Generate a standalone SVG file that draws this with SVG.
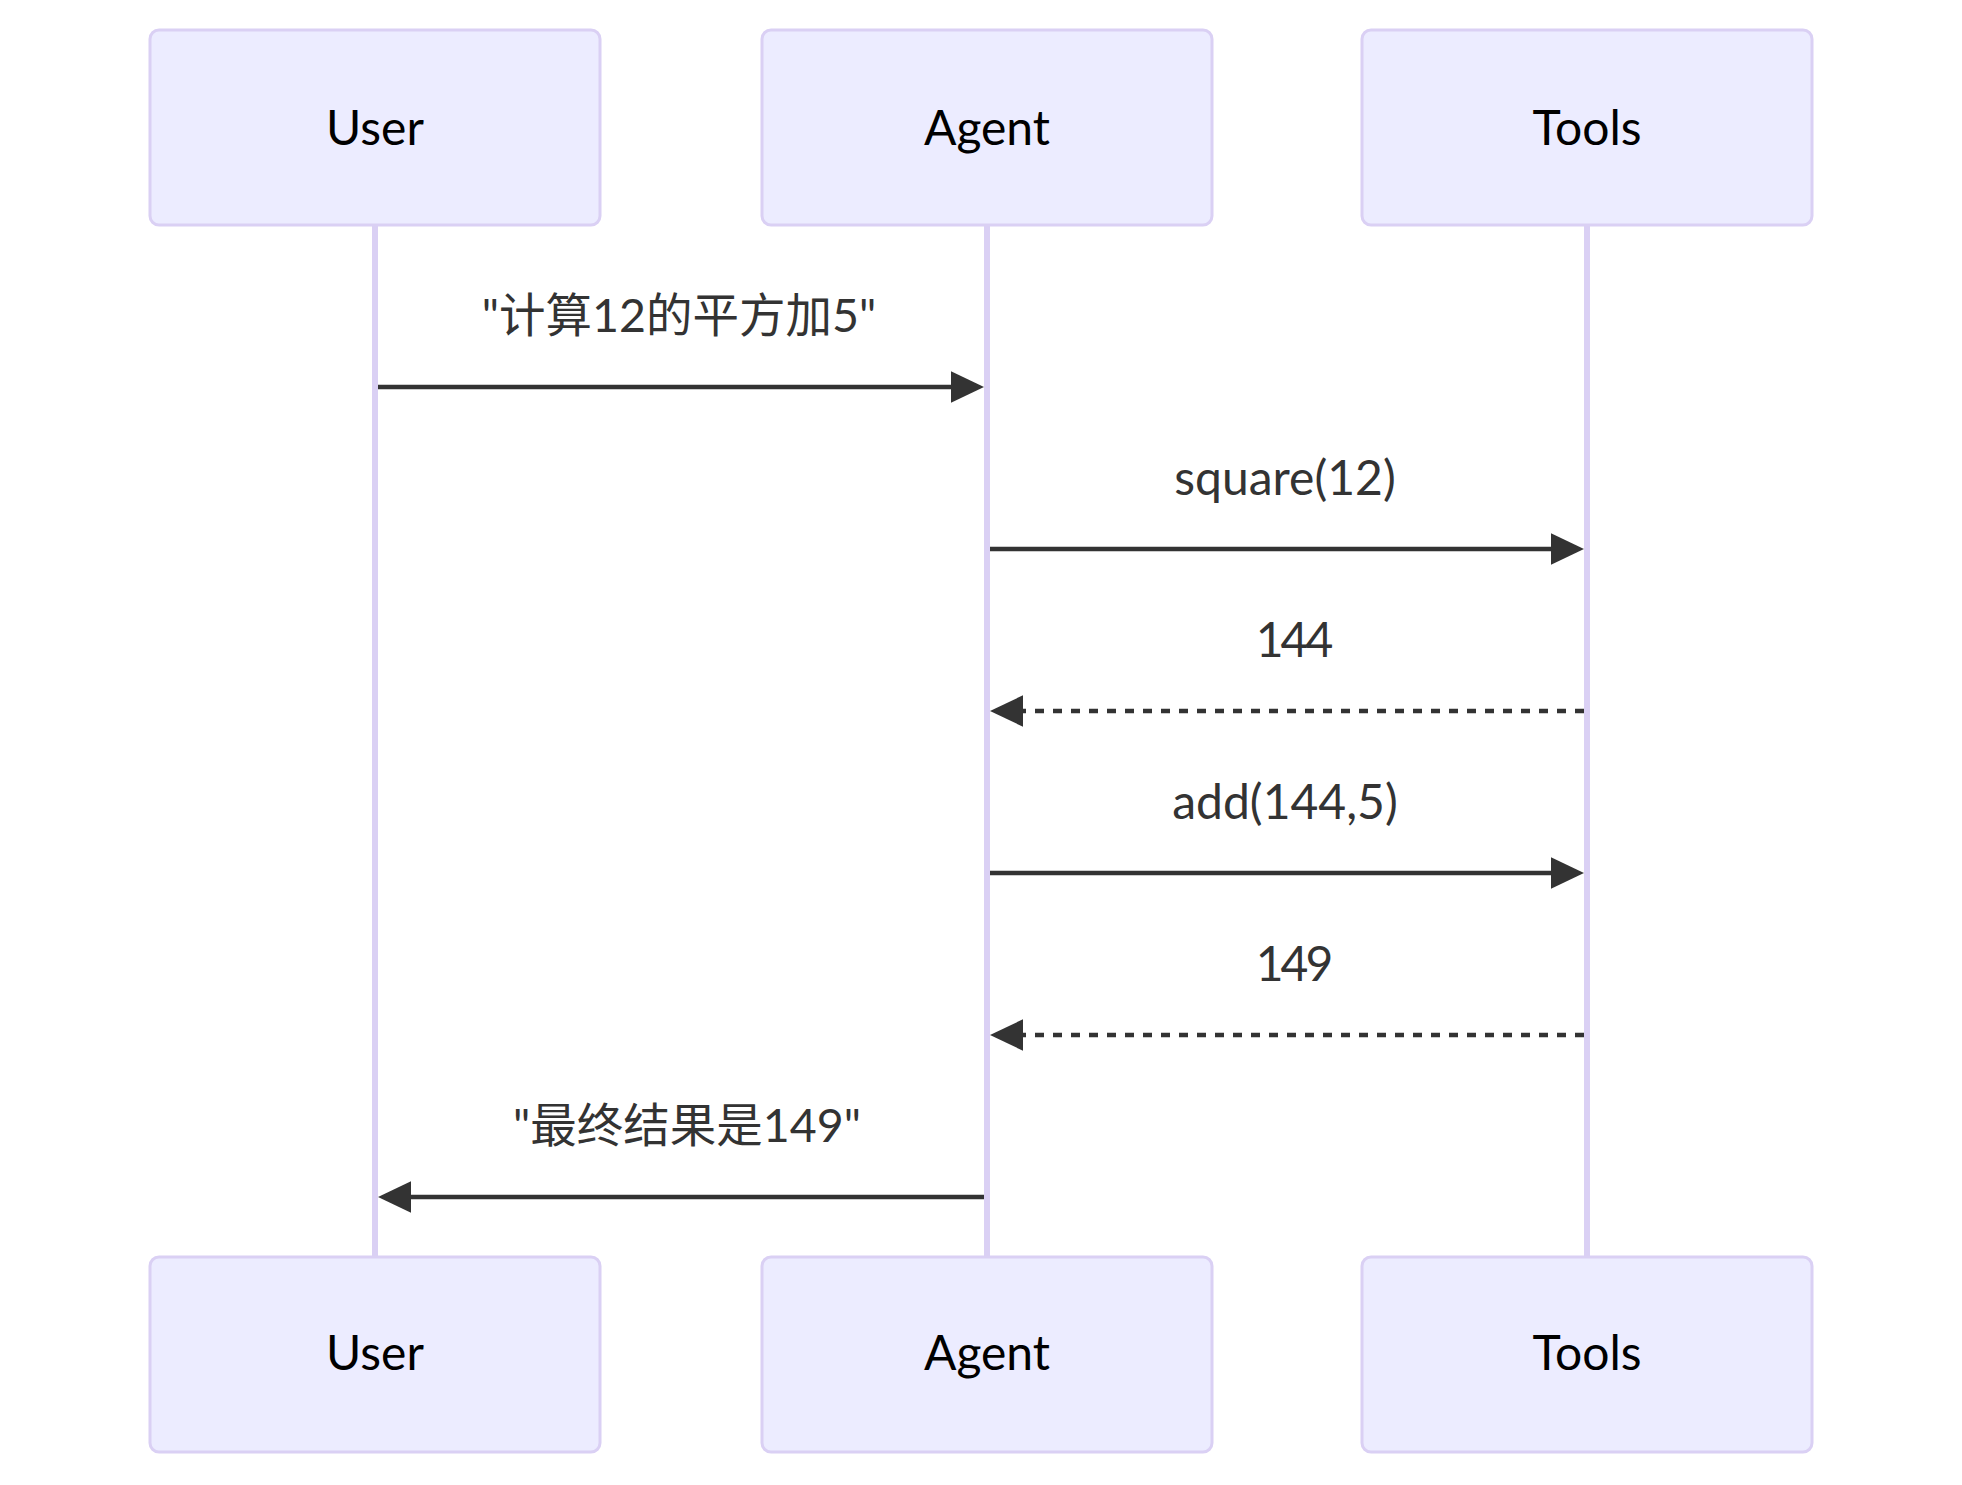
<svg xmlns="http://www.w3.org/2000/svg" width="1962" height="1485" viewBox="0 0 1962 1485">
<style>
.actor rect{fill:#ECECFF;stroke:#DAD0F4;stroke-width:3}
.actor text{font-family:Lato,"Noto Sans",sans-serif;font-size:48px;fill:#000;text-anchor:middle}
.lifeline{stroke:#DAD0F4;stroke-width:6}
.msg{stroke:#333;stroke-width:4.5;fill:none}
.dash{stroke-dasharray:9 9}
.label{font-family:Lato,"Noto Sans",sans-serif;font-size:48px;fill:#333;text-anchor:middle}
.cjk{font-family:Lato,"Noto Sans CJK SC",sans-serif;font-size:46.5px}
.num{letter-spacing:-3px}
</style>
<defs>
<marker id="arrow" markerUnits="userSpaceOnUse" markerWidth="34" markerHeight="32" viewBox="0 0 34 32" refX="23" refY="15.75" orient="auto">
<path d="M0,0 L33,15.75 L0,31.5 z" fill="#333"/>
</marker>
</defs>
<rect width="1962" height="1485" fill="#fff"/>
<g id="lifelines">
<line class="lifeline" x1="375" y1="225" x2="375" y2="1257"/>
<line class="lifeline" x1="987" y1="225" x2="987" y2="1257"/>
<line class="lifeline" x1="1587" y1="225" x2="1587" y2="1257"/>
</g>
<g id="actor-user-top" class="actor"><rect x="150" y="30" width="450" height="195" rx="9"/><text x="375" y="145">User</text></g>
<g id="actor-agent-top" class="actor"><rect x="762" y="30" width="450" height="195" rx="9"/><text x="987" y="145">Agent</text></g>
<g id="actor-tools-top" class="actor"><rect x="1362" y="30" width="450" height="195" rx="9"/><text x="1587" y="145">Tools</text></g>
<g id="actor-user-bottom" class="actor"><rect x="150" y="1257" width="450" height="195" rx="9"/><text x="375" y="1370">User</text></g>
<g id="actor-agent-bottom" class="actor"><rect x="762" y="1257" width="450" height="195" rx="9"/><text x="987" y="1370">Agent</text></g>
<g id="actor-tools-bottom" class="actor"><rect x="1362" y="1257" width="450" height="195" rx="9"/><text x="1587" y="1370">Tools</text></g>
<g id="connectors">
<line class="msg" x1="378" y1="387" x2="974" y2="387" marker-end="url(#arrow)"/>
<line class="msg" x1="990" y1="549" x2="1574" y2="549" marker-end="url(#arrow)"/>
<line class="msg dash" x1="1584" y1="711" x2="1000" y2="711" marker-end="url(#arrow)"/>
<line class="msg" x1="990" y1="873" x2="1574" y2="873" marker-end="url(#arrow)"/>
<line class="msg dash" x1="1584" y1="1035" x2="1000" y2="1035" marker-end="url(#arrow)"/>
<line class="msg" x1="984" y1="1197" x2="388" y2="1197" marker-end="url(#arrow)"/>
</g>
<g id="labels">
<text class="label cjk" x="679" y="332">"计算12的平方加5"</text>
<text class="label" x="1285" y="495">square(12)</text>
<text class="label num" x="1293" y="657">144</text>
<text class="label" x="1285" y="819">add(144,5)</text>
<text class="label num" x="1293" y="981">149</text>
<text class="label cjk" x="687" y="1142">"最终结果是149"</text>
</g>
</svg>
